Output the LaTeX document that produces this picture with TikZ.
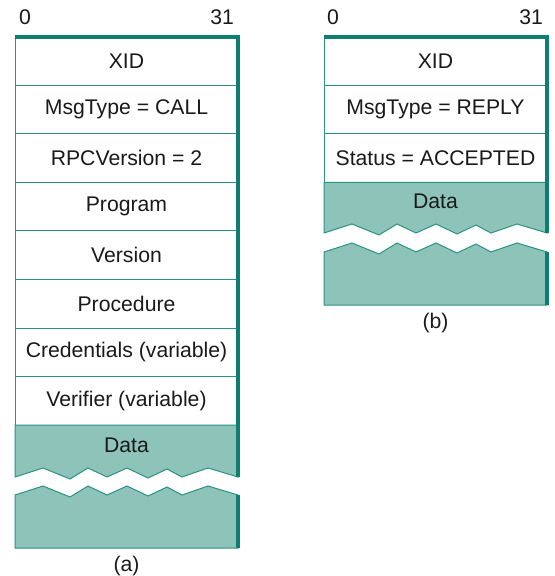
\documentclass[tikz,border=0pt]{standalone}
\usepackage{fontspec}
\setmainfont{Liberation Sans}
\usetikzlibrary{positioning}
\definecolor{borde}{HTML}{2A9286}
\definecolor{oscuro}{HTML}{0E7E72}
\definecolor{relleno}{HTML}{8EC3B9}
\definecolor{texto}{HTML}{1A1A1A}
\newcommand{\dientes}{-- ++(28,-9) -- ++(27,11) -- ++(18,-11) -- ++(19,9) -- ++(20,-9)
  -- ++(21,10) -- ++(19,-9) -- ++(15,8) -- ++(26,-9) -- ++(30,9)}

\begin{document}
\begin{tikzpicture}[x=0.5pt, y=-0.5pt, font=\fontsize{10.6}{12}\selectfont, text=texto,
		campo/.style={draw=borde, line width=0.5pt, fill=white, inner sep=0pt, outer sep=0pt,
		              minimum width=111.5pt, minimum height=24.25pt, anchor=north west},
		pieza/.style={draw=borde, line width=0.5pt, fill=relleno, line join=miter},
		canto/.style={draw=oscuro, line width=1.6pt}]
	\useasboundingbox (0,0) rectangle (554,576);
	% (a) llamada
	\node[anchor=base west] (ceroa) at (12,25) {0};
	\node[anchor=base east] (bitsa) at (241,25) {31};
	\node[campo] (xid) at (15,37) {XID};
	\node[campo, below=0pt of xid] (tipo) {MsgType = CALL};
	\node[campo, below=0pt of tipo] (rpcver) {RPCVersion = 2};
	\node[campo, below=0pt of rpcver] (prog) {Program};
	\node[campo, below=0pt of prog] (vers) {Version};
	\node[campo, below=0pt of vers] (proc) {Procedure};
	\node[campo, below=0pt of proc] (cred) {Credentials (variable)};
	\node[campo, below=0pt of cred] (verif) {Verifier (variable)};
	\draw[pieza] (15,477) \dientes -- (verif.south east) -- (verif.south west) -- cycle;
	\draw[pieza] (15,495) \dientes -- (238,548) -- (15,548) -- cycle;
	\node (datosa) at (126.5,445) {Data};
	\draw[canto] (xid.north west) -- (xid.north east) -- (238,477);
	\draw[canto] (238,495) -- (238,548);
	\node (piea) at (126.5,566) {(a)};
	% (b) respuesta
	\node[anchor=base west] (cerob) at (320,25) {0};
	\node[anchor=base east] (bitsb) at (550,25) {31};
	\node[campo] (rxid) at (324,37) {XID};
	\node[campo, below=0pt of rxid] (rtipo) {MsgType = REPLY};
	\node[campo, below=0pt of rtipo] (estado) {Status = ACCEPTED};
	\draw[pieza] (324,233) \dientes -- (estado.south east) -- (estado.south west) -- cycle;
	\draw[pieza] (324,252) \dientes -- (547,305) -- (324,305) -- cycle;
	\node (datosb) at (435.5,201) {Data};
	\draw[canto] (rxid.north west) -- (rxid.north east) -- (547,233);
	\draw[canto] (547,252) -- (547,305);
	\node (pieb) at (435.5,323) {(b)};
\end{tikzpicture}
\end{document}
